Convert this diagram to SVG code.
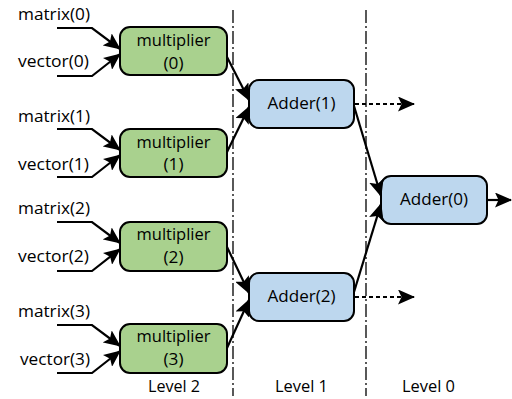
<svg xmlns="http://www.w3.org/2000/svg" width="512" height="399" viewBox="0 0 512 399">
<defs>
<marker id="ah" markerWidth="17" markerHeight="15" refX="16" refY="7.5" orient="auto" markerUnits="userSpaceOnUse">
<path d="M0,0 L17,7.5 L0,15 L3.5,7.5 Z" fill="#000"/>
</marker>
<style>
text{font-family:"Open Sans","Liberation Sans",Arial,sans-serif;font-size:16px;fill:#000}
.c{text-anchor:middle}
.mul{fill:#A9D18E;stroke:#000;stroke-width:2}
.add{fill:#BDD7EE;stroke:#000;stroke-width:2}
.ln{fill:none;stroke:#000;stroke-width:2.2;marker-end:url(#ah)}
.dl{fill:none;stroke:#000;stroke-width:2;stroke-dasharray:4 3;marker-end:url(#ah)}
.lv{fill:none;stroke:#000;stroke-width:1.3;stroke-dasharray:13 3 2 3}
</style>
</defs>
<rect width="512" height="399" fill="#fff"/>
<g id="level-lines">
<line class="lv" x1="233" y1="10" x2="233" y2="396"/>
<line class="lv" x1="366" y1="10" x2="366" y2="396"/>
</g>
<g id="inputs">
<text x="18" y="20" textLength="72" lengthAdjust="spacingAndGlyphs">matrix(0)</text>
<text x="18" y="67" textLength="71" lengthAdjust="spacingAndGlyphs">vector(0)</text>
<text x="18" y="122" textLength="72" lengthAdjust="spacingAndGlyphs">matrix(1)</text>
<text x="18" y="170" textLength="71" lengthAdjust="spacingAndGlyphs">vector(1)</text>
<text x="18" y="214" textLength="72" lengthAdjust="spacingAndGlyphs">matrix(2)</text>
<text x="18" y="262" textLength="71" lengthAdjust="spacingAndGlyphs">vector(2)</text>
<text x="18" y="317" textLength="72" lengthAdjust="spacingAndGlyphs">matrix(3)</text>
<text x="20" y="365" textLength="70" lengthAdjust="spacingAndGlyphs">vector(3)</text>
</g>
<g id="mult0">
<rect class="mul" x="120" y="27" width="107" height="48" rx="10"/>
<text class="c" x="173.5" y="46" textLength="74" lengthAdjust="spacingAndGlyphs">multiplier</text>
<text class="c" x="173.5" y="69" textLength="20" lengthAdjust="spacingAndGlyphs">(0)</text>
</g>
<g id="mult1">
<rect class="mul" x="120" y="129" width="107" height="48" rx="10"/>
<text class="c" x="173.5" y="148" textLength="74" lengthAdjust="spacingAndGlyphs">multiplier</text>
<text class="c" x="173.5" y="170" textLength="20" lengthAdjust="spacingAndGlyphs">(1)</text>
</g>
<g id="mult2">
<rect class="mul" x="120" y="222" width="107" height="49" rx="10"/>
<text class="c" x="173.5" y="240" textLength="74" lengthAdjust="spacingAndGlyphs">multiplier</text>
<text class="c" x="173.5" y="263" textLength="20" lengthAdjust="spacingAndGlyphs">(2)</text>
</g>
<g id="mult3">
<rect class="mul" x="120" y="324" width="107" height="49" rx="10"/>
<text class="c" x="173.5" y="342" textLength="74" lengthAdjust="spacingAndGlyphs">multiplier</text>
<text class="c" x="173.5" y="365" textLength="20" lengthAdjust="spacingAndGlyphs">(3)</text>
</g>
<g id="adder1">
<rect class="add" x="249" y="80" width="105" height="48" rx="10"/>
<text class="c" x="301.5" y="109" textLength="68" lengthAdjust="spacingAndGlyphs">Adder(1)</text>
</g>
<g id="adder2">
<rect class="add" x="249" y="273" width="105" height="48" rx="10"/>
<text class="c" x="301.5" y="302" textLength="68" lengthAdjust="spacingAndGlyphs">Adder(2)</text>
</g>
<g id="adder0">
<rect class="add" x="381" y="176" width="106" height="48" rx="10"/>
<text class="c" x="434" y="205" textLength="68" lengthAdjust="spacingAndGlyphs">Adder(0)</text>
</g>
<g id="connectors">
<polyline class="ln" points="57,28 92,28 120,49"/>
<polyline class="ln" points="57,76 92,76 120,54"/>
<polyline class="ln" points="57,129 92,129 120,150"/>
<polyline class="ln" points="57,177 92,177 120,155"/>
<polyline class="ln" points="57,222 92,222 120,243"/>
<polyline class="ln" points="57,271 92,271 120,249"/>
<polyline class="ln" points="57,325 92,325 120,346"/>
<polyline class="ln" points="57,373 92,373 120,351"/>
<line class="ln" x1="227" y1="57" x2="249" y2="100"/>
<line class="ln" x1="227" y1="152" x2="249" y2="107"/>
<line class="ln" x1="227" y1="247" x2="249" y2="293"/>
<line class="ln" x1="227" y1="348" x2="249" y2="300"/>
<line class="ln" x1="354" y1="106" x2="381" y2="196"/>
<line class="ln" x1="354" y1="292" x2="381" y2="204"/>
<line class="ln" x1="487" y1="200" x2="511" y2="200"/>
<line class="dl" x1="355" y1="104" x2="414" y2="104"/>
<line class="dl" x1="355" y1="297" x2="414" y2="297"/>
</g>
<g id="levels">
<text x="148" y="392" textLength="52" lengthAdjust="spacingAndGlyphs">Level 2</text>
<text x="275" y="392" textLength="53" lengthAdjust="spacingAndGlyphs">Level 1</text>
<text x="402" y="392" textLength="53" lengthAdjust="spacingAndGlyphs">Level 0</text>
</g>
</svg>
